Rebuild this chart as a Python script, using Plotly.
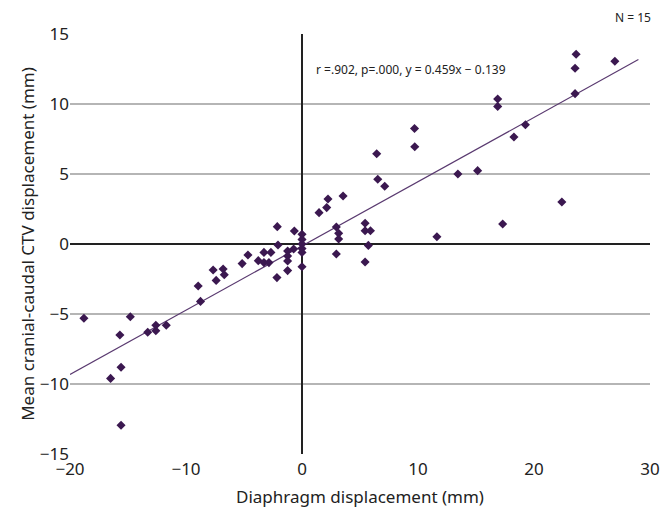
import plotly.graph_objects as go

# Diaphragm displacement (mm)
x_vals = [-18.8, -14.8, -15.7, -13.3, -12.6, -12.6, -11.7, -8.75, -15.6, -16.5, -15.6,
          -2.13, -0.66, -2.07, -1.24, -0.72, -1.24, -1.24, -1.24, -2.16, -3.28, -2.68,
          -3.77, -3.28, -2.85, -4.66, -5.16, -6.8, -6.7, -7.66, -7.4, -8.95,
          0.0, 0.0, 0.0, 0.0, 0.0, 0.0,
          6.44, 9.72, 9.7, 6.53, 7.13, 3.54, 2.24, 2.13, 1.47, 2.96, 3.16, 3.16, 2.96,
          5.44, 5.44, 5.9, 5.72, 5.44,
          16.87, 16.87, 19.26, 18.27, 13.44, 15.14, 11.63, 17.3,
          23.63, 23.54, 26.97, 23.54, 22.4]
# Mean cranial-caudal CTV displacement (mm)
y_vals = [-5.3, -5.2, -6.5, -6.3, -5.8, -6.2, -5.8, -4.1, -8.8, -9.6, -12.95,
          1.24, 0.93, -0.07, -0.5, -0.36, -0.86, -1.21, -1.9, -2.4, -0.6, -0.6,
          -1.19, -1.33, -1.33, -0.79, -1.4, -1.79, -2.2, -1.86, -2.6, -3.0,
          0.69, 0.33, 0.0, -0.33, -0.6, -1.62,
          6.45, 6.95, 8.25, 4.62, 4.12, 3.43, 3.21, 2.6, 2.24, 1.21, 0.76, 0.36, -0.71,
          1.48, 0.95, 0.95, -0.1, -1.29,
          10.36, 9.83, 8.52, 7.64, 5.0, 5.24, 0.52, 1.43,
          13.55, 12.55, 13.05, 10.74, 3.0]

slope = 0.459
intercept = -0.139
fit_x = [-20, 29]
fit_y = [slope * v + intercept for v in fit_x]

y_ticks = [-15, -10, -5, 0, 5, 10, 15]
x_ticks = [-20, -10, 0, 10, 20, 30]

font_family = "Noto Sans"

fig = go.Figure()
fig.add_trace(go.Scatter(
    x=fit_x, y=fit_y, mode="lines",
    line=dict(color="#5a3a70", width=1.2), hoverinfo="skip", showlegend=False))
fig.add_trace(go.Scatter(
    x=x_vals, y=y_vals, mode="markers",
    marker=dict(symbol="diamond", size=7, color="#3b1850"), showlegend=False))

fig.update_layout(
    width=664, height=511,
    margin=dict(l=70, r=14, t=34, b=57),
    paper_bgcolor="white", plot_bgcolor="white",
    font=dict(family=font_family, size=16, color="#222222"),
    xaxis=dict(
        range=[-20, 30], tickvals=x_ticks, showgrid=False, automargin=False,
        zeroline=True, zerolinecolor="#222222", zerolinewidth=1.5,
        showline=False, ticks="", tickfont=dict(size=17), ticklabelstandoff=3,
        title=dict(text="Diaphragm displacement (mm)", font=dict(size=17), standoff=12),
    ),
    yaxis=dict(
        range=[-15, 15], tickvals=y_ticks, showgrid=True, automargin=False,
        gridcolor="#b5b5b5", gridwidth=1.5,
        zeroline=True, zerolinecolor="#222222", zerolinewidth=1.5,
        showline=False, ticks="", tickfont=dict(size=17),
        title=dict(text="Mean cranial-caudal CTV displacement (mm)", font=dict(size=17), standoff=0),
    ),
    annotations=[
        dict(text="r =.902, p=.000, y = 0.459x \u2212 0.139", x=1.0, y=12.5,
             xref="x", yref="y", xanchor="left", yanchor="middle",
             showarrow=False, font=dict(size=12)),
        dict(text="N = 15", x=1.005, y=1.015, xref="paper", yref="paper",
             xanchor="right", yanchor="bottom", showarrow=False, font=dict(size=12)),
    ],
)

fig.write_html(
    "out.html",
    config={"displayModeBar": False},
    post_script="document.body.style.margin='0';document.body.style.overflow='hidden';",
)
